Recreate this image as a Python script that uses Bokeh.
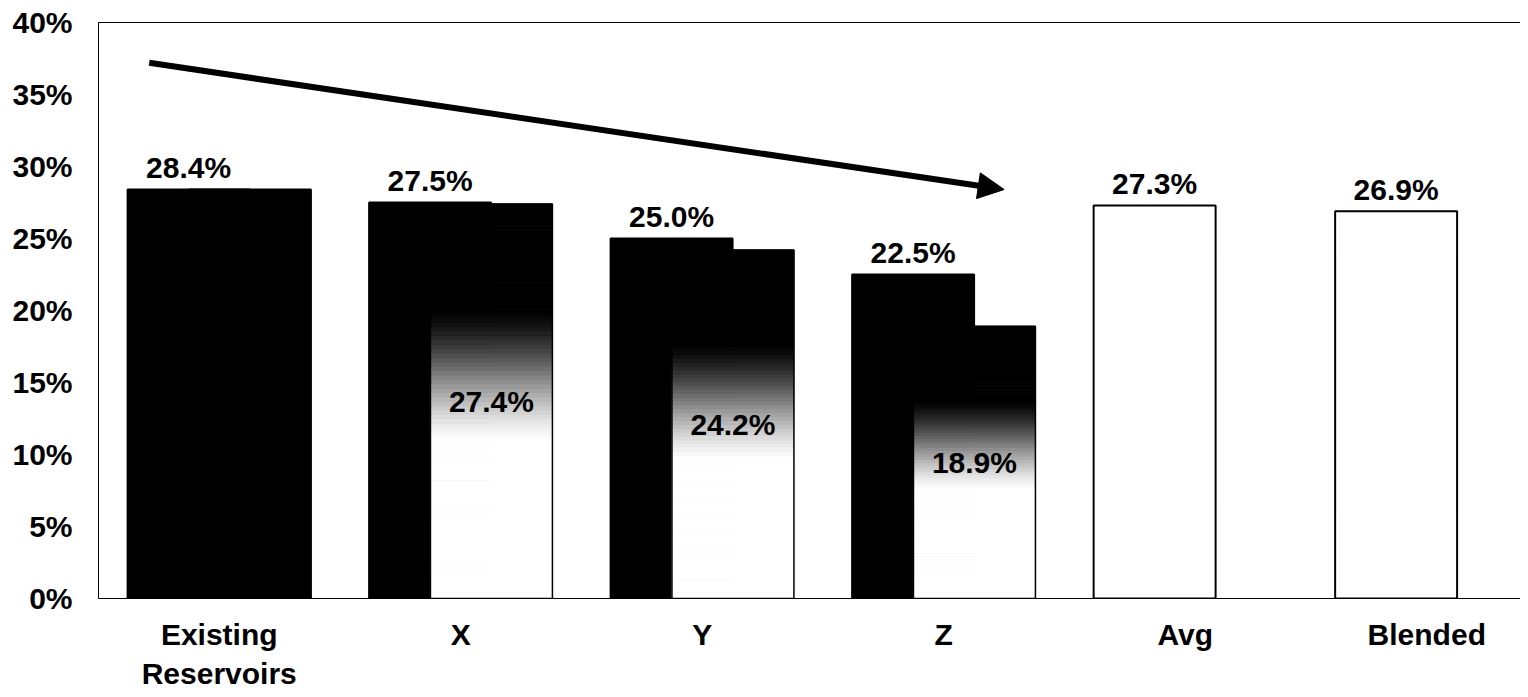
from bokeh.plotting import figure
from bokeh.models import (Range1d, FixedTicker, LinearAxis, Arrow, NormalHead,
                          ColumnDataSource, PrintfTickFormatter)
from bokeh.core.properties import value
from bokeh.embed import file_html
from bokeh.resources import INLINE

# ---------------- data ----------------
categories = ["Existing\nReservoirs", "X", "Y", "Z", "Avg", "Blended"]
series_a = [28.4, 27.5, 25.0, 22.5, 27.3, 26.9]          # front-left bars (labelled on top)
series_a_fill = ["black", "black", "black", "black", "white", "white"]
series_b = [28.4, 27.4, 24.2, 18.9, None, None]           # second bars
series_b_style = ["solid", "gradient", "gradient", "gradient", None, None]
series_b_label = [False, True, True, True, False, False]
y_ticks = [0, 5, 10, 15, 20, 25, 30, 35, 40]
trend_arrow_x = [-0.29, 3.25]
trend_arrow_y = [37.2, 28.4]

FONT = value("Liberation Sans")
OFF = 0.127
BW = 0.505

idx = list(range(len(categories)))

p = figure(width=1520, height=695, x_range=Range1d(-0.5, 5.388), y_range=Range1d(0, 40),
           output_backend="svg", toolbar_location=None,
           min_border_left=98, min_border_right=0, min_border_top=22, min_border_bottom=97)
p.background_fill_color = "white"
p.border_fill_color = "white"
p.outline_line_color = None
p.xgrid.visible = False
p.ygrid.visible = False

# axes
p.yaxis.ticker = FixedTicker(ticks=y_ticks)
p.yaxis.formatter = PrintfTickFormatter(format="%d%%")
p.yaxis.major_label_text_font = "Liberation Sans"
p.yaxis.major_label_text_font_style = "bold"
p.yaxis.major_label_text_font_size = "30px"
p.yaxis.major_label_text_color = "black"
p.yaxis.major_tick_line_color = None
p.yaxis.minor_tick_line_color = None
p.yaxis.major_label_standoff = 20
p.yaxis.axis_line_color = "black"

p.xaxis.ticker = FixedTicker(ticks=idx)
p.xaxis.major_label_overrides = {i: c for i, c in zip(idx, categories)}
p.xaxis.major_label_text_font = "Liberation Sans"
p.xaxis.major_label_text_font_style = "bold"
p.xaxis.major_label_text_font_size = "30px"
p.xaxis.major_label_text_color = "black"
p.xaxis.major_label_text_line_height = 1.2
p.xaxis.major_tick_line_color = None
p.xaxis.minor_tick_line_color = None
p.xaxis.major_label_standoff = 13
p.xaxis.axis_line_color = "black"

top_axis = LinearAxis(ticker=FixedTicker(ticks=[]), major_label_text_font_size="0px",
                      major_tick_line_color=None, minor_tick_line_color=None,
                      axis_line_color="black")
p.add_layout(top_axis, "above")

# series A bars
xa = [i - OFF for i in idx]
src_a = ColumnDataSource(dict(x=xa, top=series_a, fill=series_a_fill))
p.vbar(x="x", top="top", bottom=0, width=BW, fill_color="fill", line_color="black",
       line_width=2, source=src_a)

# series B solid bars
xs, ts = [], []
for i, v, s in zip(idx, series_b, series_b_style):
    if s == "solid":
        xs.append(i + OFF)
        ts.append(v)
p.vbar(x=xs, top=ts, bottom=0, width=BW, fill_color="black", line_color="black", line_width=2)

# series B gradient bars (black at top fading to white)
N = 90
gx, gb, gt, gc = [], [], [], []
ox, ot = [], []
for i, v, s in zip(idx, series_b, series_b_style):
    if s != "gradient":
        continue
    ox.append(i + OFF)
    ot.append(v)
    for k in range(N):
        b = v * k / N
        t = v * (k + 1) / N
        f = 1 - (k + 0.5) / N   # fraction from top
        if f < 0.27:
            g = 0.0
        elif f > 0.60:
            g = 1.0
        else:
            u = (f - 0.27) / 0.33
            g = 0.5 * u + 0.5 * u * u * (3 - 2 * u)
        lvl = int(round(255 * g))
        gx.append(i + OFF)
        gb.append(b)
        gt.append(t)
        gc.append("#%02x%02x%02x" % (lvl, lvl, lvl))
src_g = ColumnDataSource(dict(x=gx, bottom=gb, top=gt, color=gc))
p.vbar(x="x", bottom="bottom", top="top", width=BW, fill_color="color", line_color="color",
       line_width=1, source=src_g)
p.vbar(x=ox, top=ot, bottom=0, width=BW, fill_color=None, line_color="black", line_width=1.5)

# value labels on top of series A
lab_a = ColumnDataSource(dict(x=xa, y=series_a, t=["%.1f%%" % v for v in series_a]))
p.text(x="x", y="y", text="t", source=lab_a, text_font=FONT, text_font_style="bold",
       text_font_size="30px", text_color="black", text_align="center",
       text_baseline="alphabetic", y_offset=-22)

# value labels inside series B gradient bars
bx, by, bt = [], [], []
for i, v, show in zip(idx, series_b, series_b_label):
    if show:
        bx.append(i + OFF)
        by.append(v / 2)
        bt.append("%.1f%%" % v)
p.text(x=bx, y=by, text=bt, text_font=FONT, text_font_style="bold",
       text_font_size="30px", text_color="black", text_align="center",
       text_baseline="middle")

# trend arrow
p.add_layout(Arrow(end=NormalHead(size=26, fill_color="black", line_color="black"),
                   x_start=trend_arrow_x[0], y_start=trend_arrow_y[0],
                   x_end=trend_arrow_x[1], y_end=trend_arrow_y[1],
                   line_color="black", line_width=6))

open("out.html", "w").write(file_html(p, INLINE))
